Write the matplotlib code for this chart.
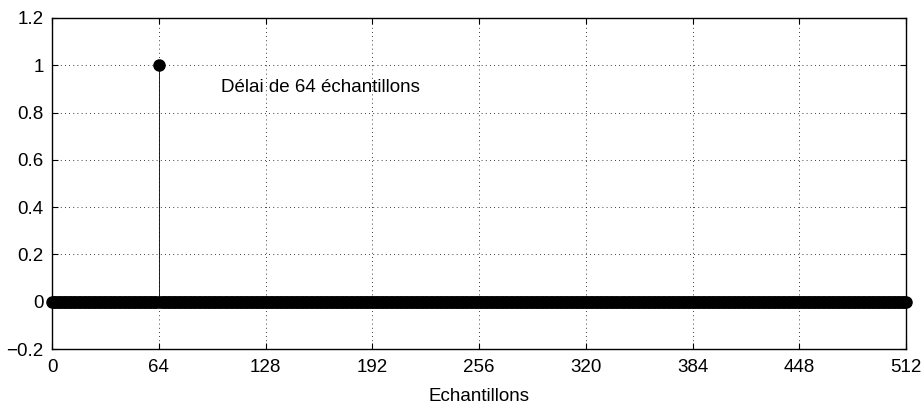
import numpy as np
import matplotlib.pyplot as plt

plt.rcParams['font.family'] = ['Liberation Sans', 'DejaVu Sans']

# impulse delayed by 64 samples, 513 samples total
n_samples = 513
delay = 64
samples = np.arange(n_samples)
values = np.zeros(n_samples)
values[delay] = 1.0

xticks = [0, 64, 128, 192, 256, 320, 384, 448, 512]
yticks = [-0.2, 0, 0.2, 0.4, 0.6, 0.8, 1, 1.2]
ytick_labels = ['\u22120.2', '0', '0.2', '0.4', '0.6', '0.8', '1', '1.2']

fig = plt.figure(figsize=(9.24, 4.08), dpi=100)
ax = fig.add_axes([0.0563, 0.1446, 0.9243, 0.8113])

markerline, stemlines, baseline = ax.stem(samples, values, basefmt=' ')
plt.setp(markerline, color='black', markerfacecolor='black',
         markersize=8, zorder=3, clip_on=False)
plt.setp(stemlines, color='black', linewidth=0.6)

ax.text(101.5, 0.905, 'Délai de 64 échantillons', fontsize=13.5,
        ha='left', va='center')

ax.set_xlim(0, 512)
ax.set_ylim(-0.2, 1.2)
ax.set_xticks(xticks)
ax.set_yticks(yticks)
ax.set_yticklabels(ytick_labels)
ax.set_xlabel('Echantillons', fontsize=13.5, labelpad=8)
ax.tick_params(direction='in', top=True, right=True, labelsize=13.5,
               length=4, width=0.8)
ax.tick_params(axis='x', pad=7.5)
ax.tick_params(axis='y', pad=6)
ax.grid(True, linestyle=(0, (1, 4)), color='black', linewidth=0.6)
for s in ax.spines.values():
    s.set_linewidth(1.0)

fig.savefig('out.png', dpi=100)
